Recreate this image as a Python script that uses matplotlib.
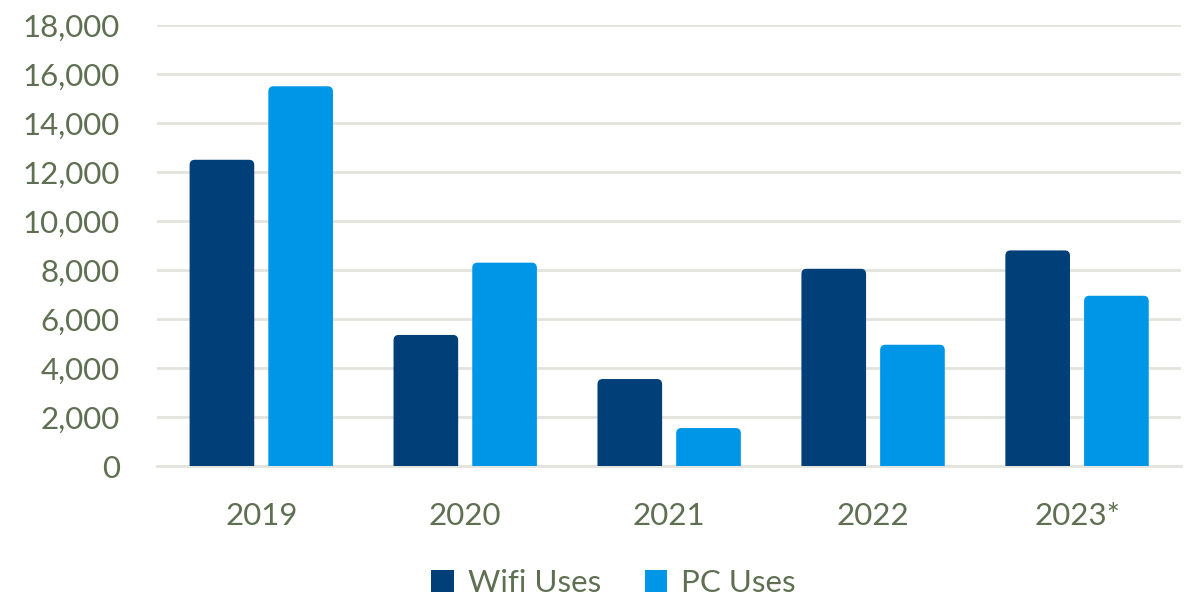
import matplotlib
matplotlib.use("Agg")
import matplotlib.pyplot as plt
from matplotlib.patches import FancyBboxPatch, Patch
import numpy as np

years = ["2019", "2020", "2021", "2022", "2023*"]
wifi_uses = [12500, 5350, 3550, 8050, 8800]
pc_uses = [15500, 8300, 1550, 4950, 6950]
series_names = ["Wifi Uses", "PC Uses"]
y_ticks = [0, 2000, 4000, 6000, 8000, 10000, 12000, 14000, 16000, 18000]

plt.rcParams['font.family'] = ['Lato', 'DejaVu Sans']
text_color = '#5F7052'
wifi_color = '#003F78'
pc_color = '#0096E8'

fig = plt.figure(figsize=(11.96, 6.0), dpi=100)
ax = fig.add_axes([0.1315, 0.2233, 0.856, 0.735])

x = np.arange(len(years))
w = 0.317
off = 0.193
bars1 = ax.bar(x - off, wifi_uses, width=w, color=wifi_color, zorder=3)
bars2 = ax.bar(x + off, pc_uses, width=w, color=pc_color, zorder=3)

# round the top corners of each bar
rx = 0.025
ry = 220
for bars in (bars1, bars2):
    for p in bars:
        bx, by = p.get_x(), p.get_y()
        bw, bh = p.get_width(), p.get_height()
        p.set_visible(False)
        fb = FancyBboxPatch((bx, by - 400), bw, bh + 400,
                            boxstyle=f"round,pad=0,rounding_size={rx}",
                            mutation_aspect=ry / rx,
                            facecolor=p.get_facecolor(), edgecolor='none',
                            zorder=3, clip_on=True)
        ax.add_patch(fb)

ax.set_xlim(-0.51, 4.51)
ax.set_ylim(0, 18000)
ax.set_yticks(y_ticks)
ax.set_yticklabels([f"{v:,}" for v in y_ticks])
ax.set_xticks(x)
ax.set_xticklabels(years)
ax.yaxis.grid(True, color='#E4E4DE', linewidth=2, zorder=0)
ax.set_axisbelow(True)
for s in ax.spines.values():
    s.set_visible(False)
ax.spines['bottom'].set_visible(True)
ax.spines['bottom'].set_color('#E4E4DE')
ax.spines['bottom'].set_linewidth(2)
ax.tick_params(axis='both', length=0, labelsize=22.5, labelcolor=text_color)
ax.tick_params(axis='y', pad=27)
ax.tick_params(axis='x', pad=26)

handles = [Patch(facecolor=wifi_color, edgecolor='none'),
           Patch(facecolor=pc_color, edgecolor='none')]
leg = fig.legend(handles, series_names, loc='center', bbox_to_anchor=(0.513, 0.028),
                 ncol=2, frameon=False, fontsize=22.5, handlelength=0.72,
                 handleheight=0.72, handletextpad=0.45, columnspacing=1.4,
                 labelcolor=text_color)

fig.savefig("out.png", dpi=100)
